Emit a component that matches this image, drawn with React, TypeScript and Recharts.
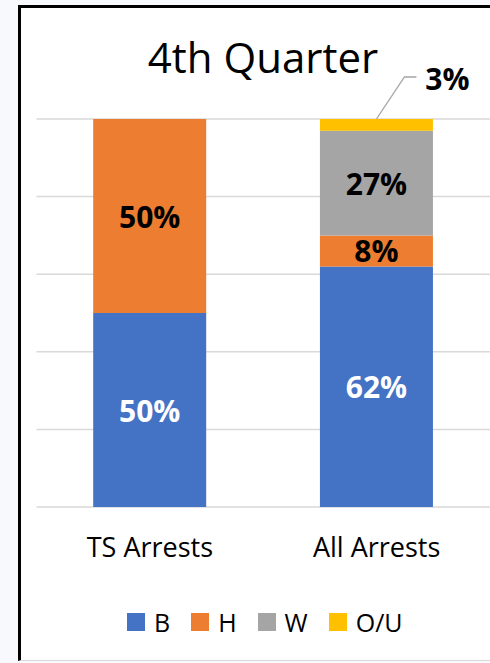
import React from "react";
import { BarChart, Bar, XAxis, YAxis, CartesianGrid, LabelList } from "recharts";

const categories = ["TS Arrests", "All Arrests"];
const seriesB = [0.5, 0.62];
const seriesH = [0.5, 0.08];
const seriesW = [0, 0.27];
const seriesOU = [0, 0.03];
const yTicks = [0, 0.2, 0.4, 0.6, 0.8, 1];
const titleText = "4th Quarter";

const seriesDefs = [
  { key: "B", name: "B", color: "#4472C4", labelColor: "#FFFFFF" },
  { key: "H", name: "H", color: "#ED7D31", labelColor: "#000000" },
  { key: "W", name: "W", color: "#A5A5A5", labelColor: "#000000" },
  { key: "OU", name: "O/U", color: "#FFC000", labelColor: "#000000" },
];

const data = categories.map((c, i) => ({
  name: c,
  B: seriesB[i],
  H: seriesH[i],
  W: seriesW[i],
  OU: seriesOU[i],
}));

const FONT = "'Open Sans', sans-serif";

const pct = (v: number) => `${Math.round(v * 100)}%`;

const makeInsideLabel = (color: string) => (props: any) => {
  const { x, y, width, height, value } = props;
  if (!value) return null;
  return (
    <text
      x={x + width / 2}
      y={y + height / 2}
      textAnchor="middle"
      dominantBaseline="central"
      fill={color}
      fontFamily={FONT}
      fontWeight={700}
      fontSize={30}
    >
      {pct(value)}
    </text>
  );
};

const OutsideLabel = (props: any) => {
  const { x, y, width, value } = props;
  if (!value) return null;
  const cx = x + width / 2;
  return (
    <g>
      <polyline
        points={`${cx},${y} ${cx + 28},${y - 42} ${cx + 40},${y - 42}`}
        fill="none"
        stroke="#A5A5A5"
        strokeWidth={1.3}
      />
      <text
        x={cx + 71}
        y={y - 41}
        textAnchor="middle"
        dominantBaseline="central"
        fill="#000"
        fontFamily={FONT}
        fontWeight={700}
        fontSize={30}
      >
        {pct(value)}
      </text>
    </g>
  );
};

const XTick = (props: any) => {
  const { x, y, payload } = props;
  return (
    <text
      x={x}
      y={y + 42}
      textAnchor="middle"
      fill="#000"
      fontFamily={FONT}
      fontSize={27}
    >
      {payload.value}
    </text>
  );
};

export default function App() {
  return (
    <div
      style={{
        position: "absolute",
        left: 0,
        top: 0,
        width: 490,
        height: 663,
        background: "#F8F9FC",
        overflow: "hidden",
      }}
    >
      <div
        style={{
          position: "absolute",
          left: 18,
          top: 5,
          width: 480,
          height: 652,
          background: "#FFFFFF",
          borderLeft: "3px solid #000",
          borderTop: "3px solid #000",
          borderBottom: "1px solid #D9D9D9",
        }}
      />
      <svg
        width={490}
        height={100}
        style={{ position: "absolute", left: 0, top: 0 }}
      >
        <text
          x={263}
          y={73}
          textAnchor="middle"
          fontFamily={FONT}
          fontSize={42}
          fill="#000"
        >
          {titleText}
        </text>
      </svg>
      <div style={{ position: "absolute", left: 0, top: 0 }}>
        <BarChart
          width={490}
          height={663}
          data={data}
          margin={{ top: 119, right: 0, left: 36.5, bottom: 96 }}
          barCategoryGap="25%"
        >
          <CartesianGrid horizontal vertical={false} stroke="#D9D9D9" strokeWidth={1.5} />
          <YAxis hide domain={[0, 1]} ticks={yTicks} />
          <XAxis
            dataKey="name"
            axisLine={false}
            tickLine={false}
            height={60}
            tick={<XTick />}
            interval={0}
          />
          {seriesDefs.map((s) => (
            <Bar
              key={s.key}
              dataKey={s.key}
              name={s.name}
              stackId="a"
              fill={s.color}
              isAnimationActive={false}
            >
              <LabelList
                dataKey={s.key}
                content={s.key === "OU" ? <OutsideLabel /> : makeInsideLabel(s.labelColor)}
              />
            </Bar>
          ))}
        </BarChart>
      </div>
      <div
        style={{
          position: "absolute",
          left: 127,
          top: 604,
          height: 36,
          display: "flex",
          alignItems: "center",
          fontFamily: FONT,
          fontSize: 25,
          color: "#000",
          whiteSpace: "nowrap",
        }}
      >
        {seriesDefs.map((s) => (
          <div key={s.key} style={{ display: "flex", alignItems: "center", marginRight: 21 }}>
            <div style={{ width: 18, height: 18, background: s.color, marginRight: 9 }} />
            <span>{s.name}</span>
          </div>
        ))}
      </div>
    </div>
  );
}
